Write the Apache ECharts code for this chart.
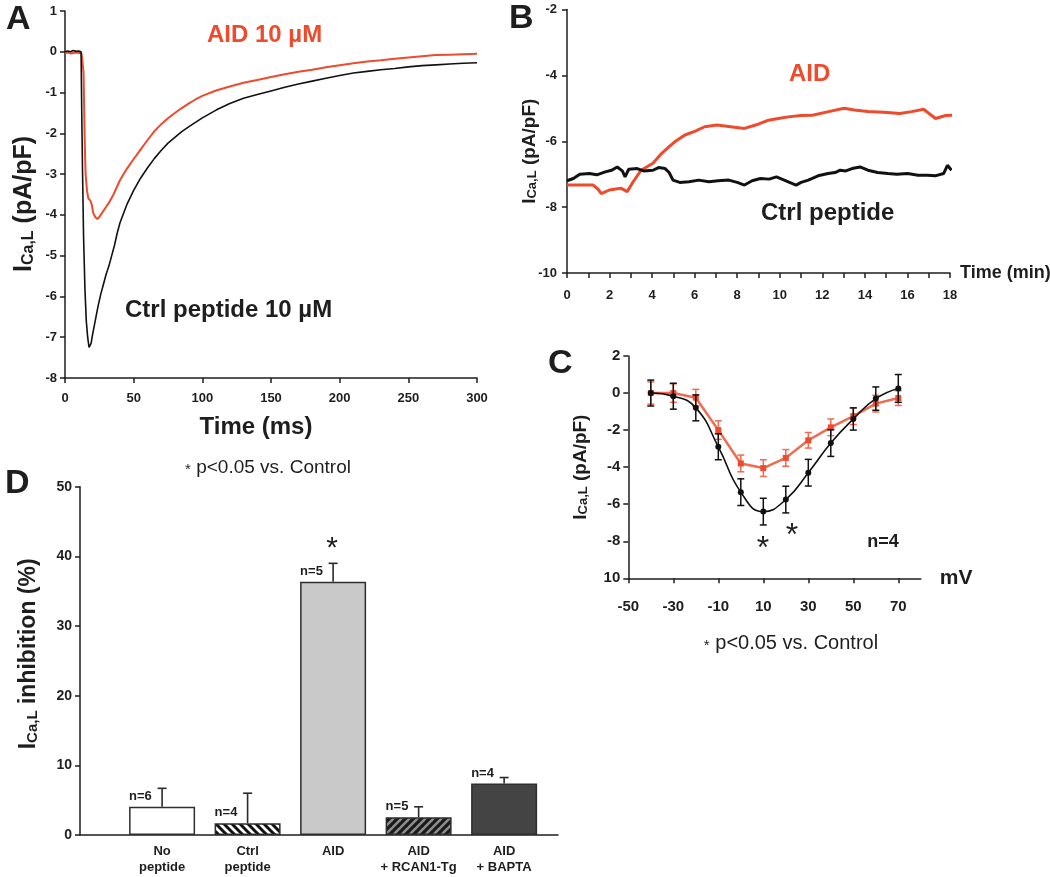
<!DOCTYPE html>
<html><head><meta charset="utf-8">
<script src="https://cdn.jsdelivr.net/npm/echarts@6/dist/echarts.min.js"></script>
<style>html,body{margin:0;padding:0;background:#fff}#c{width:1050px;height:877px}</style>
</head><body><div id="c"></div>
<script>
// ---------- Panel A: current traces ----------
const aCtrlTime = [0,2,4,6,8,10,11.7,12.2,12.8,13.5,14.5,15.5,16.5,17.5,18.2,19,20,22,24,26,28,30,32,34,36,38,40,45,50,55,60,65,70,75,80,85,90,95,100,110,120,130,140,150,160,170,180,190,200,210,220,230,240,250,260,270,280,290,300];
const aCtrlVal = [0,0.02,0,0.03,0.01,0.02,0,-1.5,-3.0,-4.5,-5.8,-6.6,-7.0,-7.25,-7.28,-7.15,-6.95,-6.6,-6.25,-5.95,-5.7,-5.45,-5.25,-5.0,-4.75,-4.45,-4.2,-3.75,-3.4,-3.1,-2.85,-2.62,-2.42,-2.24,-2.1,-1.96,-1.84,-1.73,-1.62,-1.43,-1.27,-1.14,-1.05,-0.96,-0.87,-0.79,-0.72,-0.65,-0.58,-0.52,-0.48,-0.44,-0.41,-0.37,-0.34,-0.32,-0.3,-0.28,-0.27];
const aAidTime = [0,2,4,6,8,10,12,13,13.5,14,14.5,15,16,17,18.5,19.5,20.5,22,23.5,25,27,30,32,35,40,45,50,55,60,65,70,75,80,85,90,95,100,110,120,130,140,150,160,170,180,190,200,210,220,230,240,250,260,270,280,290,300];
const aAidVal = [-0.03,-0.02,-0.04,-0.03,-0.02,-0.03,-0.03,-0.03,-0.5,-1.5,-2.4,-3.0,-3.4,-3.6,-3.65,-3.75,-3.95,-4.05,-4.1,-4.05,-3.95,-3.8,-3.7,-3.52,-3.15,-2.87,-2.63,-2.4,-2.17,-1.95,-1.78,-1.63,-1.5,-1.38,-1.27,-1.17,-1.08,-0.95,-0.85,-0.76,-0.69,-0.62,-0.55,-0.49,-0.44,-0.38,-0.33,-0.28,-0.24,-0.21,-0.17,-0.14,-0.11,-0.08,-0.07,-0.06,-0.05];

// ---------- Panel B: time course ----------
const bCtrlTime = [0,0.3,0.6,1.05,1.4,1.8,2.1,2.36,2.6,2.73,2.9,3.3,3.6,4.04,4.3,4.61,4.8,4.98,5.3,5.73,6.2,6.66,7.1,7.6,8.0,8.34,8.7,9.09,9.5,9.84,10.1,10.4,10.77,11.0,11.34,11.8,12.27,12.6,12.84,13.1,13.4,13.77,14.14,14.6,15.08,15.5,16.01,16.5,16.95,17.3,17.7,17.88,18.07];
const bCtrlVal = [-7.2,-7.13,-7.0,-6.98,-7.02,-6.93,-6.88,-6.78,-6.9,-7.08,-6.85,-6.83,-6.9,-6.88,-6.8,-6.83,-6.95,-7.18,-7.25,-7.23,-7.18,-7.23,-7.2,-7.18,-7.25,-7.33,-7.2,-7.13,-7.15,-7.08,-7.15,-7.23,-7.33,-7.25,-7.18,-7.05,-6.98,-6.95,-6.88,-6.9,-6.83,-6.78,-6.88,-6.95,-6.98,-7.0,-6.98,-7.03,-7.03,-7.05,-6.98,-6.73,-6.88];
const bAidTime = [0,0.6,1.23,1.45,1.61,1.99,2.3,2.55,2.83,3.11,3.48,4.04,4.4,4.79,5.1,5.54,6.0,6.47,7.04,7.6,8.34,8.9,9.47,10.0,10.4,11.0,11.53,12.3,13.02,13.5,14.14,14.9,15.64,16.2,16.76,17.0,17.32,17.8,18.2];
const bAidVal = [-7.33,-7.33,-7.33,-7.45,-7.59,-7.48,-7.45,-7.43,-7.53,-7.23,-6.88,-6.67,-6.4,-6.17,-6.0,-5.81,-5.7,-5.56,-5.51,-5.55,-5.61,-5.5,-5.36,-5.3,-5.26,-5.22,-5.21,-5.1,-5.0,-5.05,-5.1,-5.12,-5.16,-5.1,-5.03,-5.15,-5.31,-5.22,-5.21];

// ---------- Panel C: I-V relationship ----------
const cVolt = [-40,-30,-20,-10,0,10,20,30,40,50,60,70];
const cCtrl = [0,-0.17,-0.8,-2.9,-5.35,-6.4,-5.75,-4.3,-2.7,-1.4,-0.3,0.25];
const cCtrlErr = [0.7,0.7,0.7,0.7,0.72,0.72,0.72,0.72,0.72,0.6,0.63,0.75];
const cAid = [0,0,-0.25,-2.0,-3.8,-4.05,-3.5,-2.55,-1.85,-1.25,-0.57,-0.27];
const cAidErr = [0.6,0.5,0.45,0.5,0.45,0.45,0.45,0.42,0.45,0.45,0.45,0.4];
const cXTicks = [-50,-30,-10,10,30,50,70];
const cYTicks = [-10,-8,-6,-4,-2,0,2];
const cYTickLabels = ['10','-8','-6','-4','-2','0','2'];

// ---------- Panel D: inhibition ----------
const dCats = ['No\npeptide','Ctrl\npeptide','AID','AID\n+ RCAN1-Tg','AID\n+ BAPTA'];
const dInhib = [4.05,1.7,36.35,2.55,7.4];
const dErr = [2.65,4.3,2.65,1.5,0.85];
const dN = ['n=6','n=4','n=5','n=5','n=4'];

// ---------- styling ----------
const SANS = "'Liberation Sans', Arial, Helvetica, sans-serif";
const INK = '#1e1e1e';
const RED = '#ef4a2c';
const RED_C = '#f36a4e';

function hatch(fg, bg, dir, lw) {
  const c = document.createElement('canvas'); c.width = 8; c.height = 8;
  const g = c.getContext('2d');
  g.fillStyle = bg; g.fillRect(0,0,8,8);
  g.strokeStyle = fg; g.lineWidth = lw; g.lineCap = 'square';
  for (const k of [-8,0,8]) {
    g.beginPath();
    if (dir === 'back') { g.moveTo(k,0); g.lineTo(k+8,8); }
    else { g.moveTo(k+8,0); g.lineTo(k,8); }
    g.stroke();
  }
  return {image: c, repeat: 'repeat'};
}
const dFills = ['#ffffff', hatch('#111','#ffffff','back',3), '#c9c9c9', hatch('#1a1a1a','#8f8f8f','fwd',3.2), '#444444'];

function ax(o, fs, margin) {
  const b = {
    axisLine: {show:true, onZero:false, lineStyle:{color:INK, width:1.5}},
    axisTick: {show:true, length:5, lineStyle:{color:INK, width:1.5}},
    axisLabel: {color:INK, fontFamily:SANS, fontWeight:'bold', fontSize:fs, margin:margin},
    splitLine: {show:false},
    nameMoveOverlap: false
  };
  for (const k in o) {
    if (b[k] && typeof o[k] === 'object' && !Array.isArray(o[k])) b[k] = Object.assign({}, b[k], o[k]);
    else b[k] = o[k];
  }
  return b;
}
function icaRich(big, small) {
  return {
    i:{fontFamily:SANS, fontWeight:'bold', fontSize:big, lineHeight:big+10, verticalAlign:'bottom', color:INK},
    s:{fontFamily:SANS, fontWeight:'bold', fontSize:small, lineHeight:small+1, verticalAlign:'bottom', color:INK}
  };
}
function pairs(xs, ys) { return xs.map((x,i)=>[x, ys[i]]); }

function errSym(color, half) {
  return function(params, api) {
    const x = api.value(0), y = api.value(1), e = api.value(2);
    const t = api.coord([x, y+e]), b = api.coord([x, y-e]);
    const st = {stroke:color, lineWidth:1.5};
    return {type:'group', children:[
      {type:'line', shape:{x1:t[0],y1:t[1],x2:b[0],y2:b[1]}, style:st},
      {type:'line', shape:{x1:t[0]-half,y1:t[1],x2:t[0]+half,y2:t[1]}, style:st},
      {type:'line', shape:{x1:b[0]-half,y1:b[1],x2:b[0]+half,y2:b[1]}, style:st}
    ]};
  };
}
function errUp(params, api) {
  const x = api.value(0), y = api.value(1), e = api.value(2);
  const t = api.coord([x, y+e]), b = api.coord([x, y]);
  const st = {stroke:'#2a2a2a', lineWidth:1.6};
  return {type:'group', children:[
    {type:'line', shape:{x1:t[0],y1:t[1],x2:b[0],y2:b[1]}, style:st},
    {type:'line', shape:{x1:t[0]-4.5,y1:t[1],x2:t[0]+4.5,y2:t[1]}, style:st}
  ]};
}

function txt(x, y, text, font, fill, align) {
  return {type:'text', x:x, y:y, silent:true, style:{text:text, font:font, fill:fill||INK, align:align||'left', verticalAlign:'middle'}};
}
function note(x, y, fs) {
  return {type:'text', x:x, y:y, silent:true, style:{
    text:'{a|*}{b| p<0.05 vs. Control}', align:'center', verticalAlign:'middle',
    rich:{
      a:{fontFamily:SANS, fontSize:15, lineHeight:8, verticalAlign:'bottom', fill:INK},
      b:{fontFamily:SANS, fontSize:fs, lineHeight:fs, verticalAlign:'bottom', fill:INK}
    }
  }};
}

const option = {
  animation: false,
  backgroundColor: '#ffffff',
  grid: [
    {left:65, top:11, width:412, height:367, outerBoundsMode:'none'},
    {left:567, top:9.5, width:383, height:263.5, outerBoundsMode:'none'},
    {left:628.3, top:356, width:292.5, height:222.3, outerBoundsMode:'none'},
    {left:80, top:486.7, width:478, height:348.3, outerBoundsMode:'none'}
  ],
  xAxis: [
    ax({type:'value', gridIndex:0, min:0, max:300, interval:50,
        name:'Time (ms)', nameLocation:'middle', nameGap:37,
        nameTextStyle:{fontFamily:SANS, fontWeight:'bold', fontSize:24, color:INK, padding:[0,30,0,0]}}, 13, 14),
    ax({type:'value', gridIndex:1, min:0, max:18, interval:2,
        minorTick:{show:true, splitNumber:2, length:5, lineStyle:{color:INK, width:1.5}},
        name:'Time (min)', nameLocation:'end', nameGap:10,
        nameTextStyle:{fontFamily:SANS, fontWeight:'bold', fontSize:18, color:INK}}, 13, 16),
    ax({type:'value', gridIndex:2, min:-50, max:80,
        axisTick:{customValues:cXTicks}, axisLabel:{customValues:cXTicks},
        name:'mV', nameLocation:'end', nameGap:19,
        nameTextStyle:{fontFamily:SANS, fontWeight:'bold', fontSize:21, color:INK}}, 15, 21),
    ax({type:'value', gridIndex:3, min:0.04, max:5.63,
        axisTick:{show:false},
        axisLabel:{customValues:[1,2,3,4,5], formatter:(v)=>dCats[Math.round(v)-1] || '',
                   fontSize:13, lineHeight:16}}, 13, 8)
  ],
  yAxis: [
    ax({type:'value', gridIndex:0, min:-8, max:1, interval:1,
        name:'{i|I}{s|Ca,L}{i| (pA/pF)}', nameLocation:'middle', nameGap:28, nameRotate:90,
        nameTextStyle:{rich:icaRich(25,16), padding:[0,19,0,0]}}, 13, 8),
    ax({type:'value', gridIndex:1, min:-10, max:-2, interval:2,
        name:'{i|I}{s|Ca,L}{i| (pA/pF)}', nameLocation:'middle', nameGap:28, nameRotate:90,
        nameTextStyle:{rich:icaRich(19,13), padding:[0,20,0,0]}}, 13, 10),
    ax({type:'value', gridIndex:2, min:-10, max:2, interval:2,
        axisLabel:{formatter:(v)=>{const k=cYTicks.indexOf(v); return k>=0?cYTickLabels[k]:String(v);}},
        name:'{i|I}{s|Ca,L}{i| (pA/pF)}', nameLocation:'middle', nameGap:38, nameRotate:90,
        nameTextStyle:{rich:icaRich(19,13)}}, 15, 8),
    ax({type:'value', gridIndex:3, min:0, max:50, interval:10,
        name:'{i|I}{s|Ca,L}{i| inhibition (%)}', nameLocation:'middle', nameGap:40, nameRotate:90,
        nameTextStyle:{rich:icaRich(23,15), padding:[0,0,0,14]}}, 14, 8)
  ],
  series: [
    {type:'line', name:'AID 10 µM', xAxisIndex:0, yAxisIndex:0, data:pairs(aAidTime, aAidVal),
     showSymbol:false, lineStyle:{color:RED, width:2}, itemStyle:{color:RED}},
    {type:'line', name:'Ctrl peptide 10 µM', xAxisIndex:0, yAxisIndex:0, data:pairs(aCtrlTime, aCtrlVal),
     showSymbol:false, lineStyle:{color:'#111', width:1.6}, itemStyle:{color:'#111'}},

    {type:'line', name:'AID', xAxisIndex:1, yAxisIndex:1, data:pairs(bAidTime, bAidVal),
     showSymbol:false, lineStyle:{color:RED, width:3}, itemStyle:{color:RED}},
    {type:'line', name:'Ctrl peptide', xAxisIndex:1, yAxisIndex:1, data:pairs(bCtrlTime, bCtrlVal),
     showSymbol:false, lineStyle:{color:'#111', width:3}, itemStyle:{color:'#111'}},

    {type:'line', name:'AID (I-V)', xAxisIndex:2, yAxisIndex:2, data:pairs(cVolt, cAid),
     symbol:'rect', symbolSize:6, lineStyle:{color:RED_C, width:2.5}, itemStyle:{color:'#ee4a2e'}},
    {type:'custom', name:'AID err', xAxisIndex:2, yAxisIndex:2, renderItem:errSym(RED_C, 3.5),
     data:cVolt.map((v,i)=>[v, cAid[i], cAidErr[i]]), z:3},
    {type:'line', name:'Control (I-V)', xAxisIndex:2, yAxisIndex:2, data:pairs(cVolt, cCtrl), smooth:0.5,
     symbol:'circle', symbolSize:6, lineStyle:{color:'#111', width:1.6}, itemStyle:{color:'#111'}, z:4},
    {type:'custom', name:'Control err', xAxisIndex:2, yAxisIndex:2, renderItem:errSym('#111', 3.5),
     data:cVolt.map((v,i)=>[v, cCtrl[i], cCtrlErr[i]]), z:5},

    {type:'bar', name:'Inhibition', xAxisIndex:3, yAxisIndex:3, barWidth:66,
     data:dInhib.map((v,i)=>({value:[i+1, v], itemStyle:{color:dFills[i]}})),
     itemStyle:{borderColor:'#2e2e2e', borderWidth:1.5},
     label:{show:true, position:[0,-4], align:'left', verticalAlign:'bottom',
            formatter:(p)=>dN[p.dataIndex], fontFamily:SANS, fontWeight:'bold', fontSize:13, color:INK}},
    {type:'custom', name:'Inhibition err', xAxisIndex:3, yAxisIndex:3, renderItem:errUp,
     data:dInhib.map((v,i)=>[i+1, v, dErr[i]]), z:5}
  ],
  graphic: {elements: [
    txt(6, 20, 'A', `bold 34px ${SANS}`),
    txt(509, 19, 'B', `bold 34px ${SANS}`),
    txt(548, 364, 'C', `bold 34px ${SANS}`),
    txt(5, 484, 'D', `bold 34px ${SANS}`),
    txt(207, 35, 'AID 10 µM', `bold 24px ${SANS}`, RED),
    txt(125, 310, 'Ctrl peptide 10 µM', `bold 24px ${SANS}`),
    txt(789, 74, 'AID', `bold 24px ${SANS}`, RED),
    txt(761, 213, 'Ctrl peptide', `bold 24px ${SANS}`),
    note(268, 468, 19),
    note(791, 643, 20),
    txt(763, 549, '*', `32px ${SANS}`, INK, 'center'),
    txt(792, 536, '*', `32px ${SANS}`, INK, 'center'),
    txt(332, 549, '*', `30px ${SANS}`, INK, 'center'),
    txt(883, 542, 'n=4', `bold 18px ${SANS}`, INK, 'center')
  ]}
};

const chart = echarts.init(document.getElementById('c'), null, {renderer:'canvas'});
chart.setOption(option);
</script></body></html>
